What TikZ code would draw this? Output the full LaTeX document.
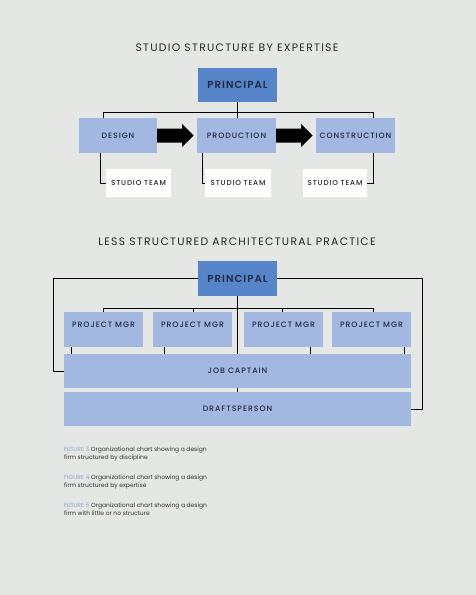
\documentclass[tikz,border=0pt]{standalone}
\usepackage{fontspec}
\setmainfont{Poppins}
\newfontfamily\spfont[LetterSpace=12]{Poppins}
\newfontfamily\spmed[LetterSpace=12]{Poppins Medium}
\newfontfamily\spbold[LetterSpace=10]{Poppins SemiBold}
\newfontfamily\capfont{Poppins}
\definecolor{bg}{HTML}{E4E7E4}
\definecolor{dblue}{HTML}{5584C8}
\definecolor{lblue}{HTML}{A3B8E0}
\definecolor{ink}{HTML}{1F2A44}
\definecolor{figc}{HTML}{8FA7C8}
\tikzset{
  x=1pt,y=-1pt,
  conn/.style={draw=black,line width=0.9pt},
  title/.style={font=\spfont\fontsize{10.8}{12}\selectfont,text=black!85,inner sep=0},
  pbox/.style={fill=dblue,minimum width=79pt,minimum height=34pt,inner sep=0,font=\spbold\fontsize{10.2}{12}\selectfont,text=ink},
  lbox/.style={fill=lblue,inner sep=0,font=\spmed\fontsize{7.8}{9}\selectfont,text=ink},
  wbox/.style={fill=white,inner sep=0,font=\spmed\fontsize{7.2}{9}\selectfont,text=black!85},
  bigarrow/.style={fill=black},
  caption/.style={font=\capfont\fontsize{6}{8}\selectfont,align=left,anchor=north west,inner sep=0,text=black!80},
}
\begin{document}
\begin{tikzpicture}
\fill[bg] (0,0) rectangle (476,595);
\useasboundingbox (0,0) rectangle (476,595);
% ---------- top chart ----------
\node[title] (t1) at (237,48) {STUDIO STRUCTURE BY EXPERTISE};
\node[pbox] (p1) at (237.5,85) {PRINCIPAL};
\node[lbox,minimum width=78pt,minimum height=35pt] (des) at (118,135.5) {DESIGN};
\node[lbox,minimum width=79pt,minimum height=35pt] (pro) at (236.5,135.5) {PRODUCTION};
\node[lbox,minimum width=79pt,minimum height=35pt] (con) at (355.5,135.5) {CONSTRUCTION};
\node[wbox,minimum width=65pt,minimum height=28pt] (s1) at (138.5,183) {STUDIO TEAM};
\node[wbox,minimum width=66pt,minimum height=28pt] (s2) at (238,183) {STUDIO TEAM};
\node[wbox,minimum width=64pt,minimum height=28pt] (s3) at (335,183) {STUDIO TEAM};
\coordinate (hl) at (103,112);
\coordinate (hr) at (373,112);
\draw[conn] (p1.south) -- (237.5,112);
\draw[conn] (des.north -| hl) -- (hl) -- (hr) -- (con.north -| hr);
\draw[conn] (237.5,112) -- (pro.north -| 237.5,0);
\draw[conn] (des.south -| 100,0) |- (s1.west);
\draw[conn] (pro.south -| 202,0) |- (s2.west);
\draw[conn] (con.south -| 373,0) |- (s3.east);
% block arrows
\fill[bigarrow] (des.east) ++(0,-7) -- ++(25,0) -- ++(0,-4.5) -- ++(11.5,11.5) -- ++(-11.5,11.5) -- ++(0,-4.5) -- ++(-25,0) -- cycle;
\fill[bigarrow] (pro.east) ++(0,-7) -- ++(25,0) -- ++(0,-4.5) -- ++(11.5,11.5) -- ++(-11.5,11.5) -- ++(0,-4.5) -- ++(-25,0) -- cycle;
% ---------- bottom chart ----------
\node[title] (t2) at (237,242) {LESS STRUCTURED ARCHITECTURAL PRACTICE};
\node[pbox,minimum height=35pt] (p2) at (237.5,278.5) {PRINCIPAL};
\foreach \i/\cx in {1/103.5,2/192.5,3/283.5,4/371.5}{
  \node[lbox,minimum width=79pt,minimum height=35pt] (pm\i) at (\cx,329.5) {};
  \node[lbox,fill=none,anchor=center] (pmt\i) at (\cx,324.5) {PROJECT MGR};
}
\node[lbox,minimum width=347pt,minimum height=34pt] (jc) at (237.5,371) {JOB CAPTAIN};
\node[lbox,minimum width=347pt,minimum height=34pt] (dp) at (237.5,409) {DRAFTSPERSON};
% connectors
\coordinate (bl) at (103,308);
\coordinate (br) at (373,308);
\draw[conn] (p2.south) -- (jc.north -| p2.south);
\draw[conn] (pm1.north -| bl) -- (bl) -- (br) -- (pm4.north -| br);
\draw[conn] (pm2.north -| 193,0) -- (193,308);
\draw[conn] (pm3.north -| 282,0) -- (282,308);
\foreach \i/\xx in {1/71,2/164,3/310,4/404}{
  \draw[conn] (pm\i.south -| \xx,0) -- (jc.north -| \xx,0);
}
\draw[conn] (jc.south -| 237.5,0) -- (dp.north -| 237.5,0);
\draw[conn] (p2.west |- 0,278) -| (53,371) -- (jc.west |- 0,371);
\draw[conn] (p2.east |- 0,278) -| (422,409) -- (dp.east |- 0,409);
% ---------- captions ----------
\node[caption] (c1) at (64,447) {{\color{figc}FIGURE 3} Organizational chart showing a design\\firm structured by discipline};
\node[caption] (c2) at (64,475) {{\color{figc}FIGURE 4} Organizational chart showing a design\\firm structured by expertise};
\node[caption] (c3) at (64,503) {{\color{figc}FIGURE 5} Organizational chart showing a design\\firm with little or no structure};
\end{tikzpicture}
\end{document}
